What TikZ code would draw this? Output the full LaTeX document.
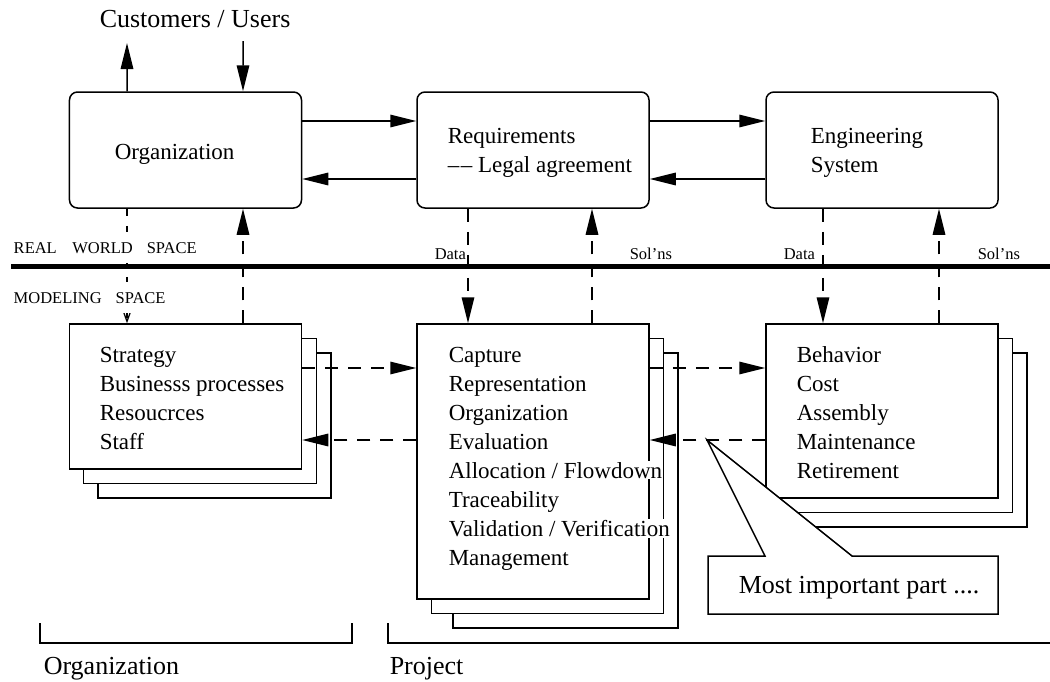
\documentclass[tikz,border=0pt]{standalone}
\usepackage{fontspec}
\setmainfont{Liberation Serif}
\usetikzlibrary{arrows.meta, positioning, calc}
\newcommand{\DrawSheets}[5][0]{
    % Back sheets of a stack (front box goes on top)
    \draw[sheet] (#2+29+#1,#3+29) rectangle (#4+29,#5+29);
    \draw[sheet] (#2+14.5,#3+14.5) rectangle (#4+14.5,#5+14.5);
}

\begin{document}
\begin{tikzpicture}[x=0.4pt, y=-0.4pt,
    box/.style={draw, line width=0.6pt, rounded corners=3.2pt, minimum width=92.8pt, minimum height=46.4pt},
    sheet/.style={draw, fill=white, line width=0.6pt},
    frontbox/.style={sheet, minimum width=92.8pt},
    boxtext/.style={anchor=base west, inner sep=0.5pt, font=\fontsize{9.2}{11}\selectfont},
    listitem/.style={boxtext, fill=white},
    bigtext/.style={anchor=base west, inner sep=0.5pt, font=\fontsize{10.4}{12.5}\selectfont},
    spacetag/.style={anchor=base west, inner sep=0.5pt, fill=white, font=\fontsize{6.6}{8}\selectfont},
    flow/.style={line width=0.6pt, -{Triangle[length=10.4pt, width=5pt]}},
    dflow/.style={flow, dash pattern=on 5.2pt off 4pt},
    oflow/.style={line width=0.5pt, dash pattern=on 2.8pt off 4pt, -{Straight Barb[length=4.4pt, width=3.2pt]}}]
    \useasboundingbox (0,0) rectangle (1050,681);

    % Rows for the horizontal links
    \coordinate (topA) at (0,121);
    \coordinate (topB) at (0,179);
    \coordinate (rowA) at (0,368);
    \coordinate (rowB) at (0,440);

    % Real world boxes
    \node[box] (org) at (185.5,150) {};
    \node[box] (req) at (533,150) {};
    \node[box] (eng) at (882,150) {};
    \node[boxtext] (orgtxt) at (113,159) {Organization};
    \node[boxtext] (reqtxt) at (446,143) {Requirements};
    \node[boxtext] (legaltxt) at (446,172) {--\kern0.6pt-- Legal agreement};
    \node[boxtext] (engtxt) at (809,143) {Engineering};
    \node[boxtext] (systxt) at (809,172) {System};

    % Customers
    \node[bigtext] (cust) at (98,27) {Customers / Users};
    \coordinate (custout) at (127,43);
    \coordinate (custin) at (243,41);
    \draw[flow] ([xshift=-23.4pt]org.north) -- (custout);
    \draw[flow] (custin) -- ([xshift=23pt]org.north);

    % Top links
    \draw[flow] (org.east |- topA) -- (req.west |- topA);
    \draw[flow] (req.west |- topB) -- (org.east |- topB);
    \draw[flow] (req.east |- topA) -- (eng.west |- topA);
    \draw[flow] (eng.west |- topB) -- (req.east |- topB);

    % Modeling stacks
    \DrawSheets{69}{324}{302}{469}
    \node[frontbox, minimum height=58pt] (strat) at (185.5,396.5) {};
    \DrawSheets[7]{417}{324}{649}{599}
    \node[frontbox, minimum height=110pt] (cap) at (533,461.5) {};
    \DrawSheets{766}{324}{998}{498}
    \node[frontbox, minimum height=69.6pt] (beh) at (882,411) {};

    \foreach \txt [count=\i] in {Strategy, Businesss processes, Resoucrces, Staff}
        \node[listitem] (strat\i) at (98,{362+29*(\i-1)}) {\txt};
    \foreach \txt [count=\i] in {Capture, Representation, Organization, Evaluation, Allocation / Flowdown, Traceability, Validation / Verification, Management}
        \node[listitem] (cap\i) at (447,{362+29*(\i-1)}) {\txt};
    \foreach \txt [count=\i] in {Behavior, Cost, Assembly, Maintenance, Retirement}
        \node[listitem] (beh\i) at (795,{362+29*(\i-1)}) {\txt};

    % Lower links
    \draw[dflow] (strat.east |- rowA) -- (cap.west |- rowA);
    \draw[dflow] (cap.west |- rowB) -- (strat.east |- rowB);
    \draw[dflow] (cap.east |- rowA) -- (beh.west |- rowA);
    \draw[dflow] (beh.west |- rowB) -- (cap.east |- rowB);

    % Data and solutions across the two spaces
    \draw[oflow] ([xshift=-23.4pt]org.south) -- ([xshift=-23.4pt]strat.north);
    \draw[dflow] ([xshift=23pt]strat.north) -- ([xshift=23pt]org.south);
    \draw[dflow] ([xshift=-26pt]req.south) -- ([xshift=-26pt]cap.north);
    \draw[dflow] ([xshift=23.6pt]cap.north) -- ([xshift=23.6pt]req.south);
    \draw[dflow] ([xshift=-23.6pt]eng.south) -- ([xshift=-23.6pt]beh.north);
    \draw[dflow] ([xshift=22.8pt]beh.north) -- ([xshift=22.8pt]eng.south);

    % Border between the spaces
    \draw[line width=2pt] (11,266.5) -- (1050,266.5);
    \node[spacetag, inner ysep=4pt] (realtag) at (12,253) {REAL\hspace{6.2pt}WORLD\hspace{5.6pt}SPACE};
    \node[spacetag, inner ysep=4pt] (modeltag) at (12,303) {MODELING\hspace{5.6pt}SPACE};
    \node[spacetag] (data1) at (433,259) {Data};
    \node[spacetag] (sol1) at (628,259) {Sol'ns};
    \node[spacetag] (data2) at (782,259) {Data};
    \node[spacetag] (sol2) at (976,259) {Sol'ns};

    % Callout
    \coordinate (tip) at (707,440);
    \draw[sheet] (765,556) -- (tip) -- (852,556) -- (998,556) -- (998,614) -- (708,614) -- (708,556) -- cycle;
    \node[bigtext] (note) at (737,593) {Most important part ....};

    % Brackets
    \draw[line width=0.6pt] (40,623) -- (40,643) -- (352,643) -- (352,623);
    \draw[line width=0.6pt] (388,623) -- (388,643) -- (1050,643);
    \node[bigtext] (orglab) at (42,674) {Organization};
    \node[bigtext] (projlab) at (388,674) {Project};
\end{tikzpicture}
\end{document}
